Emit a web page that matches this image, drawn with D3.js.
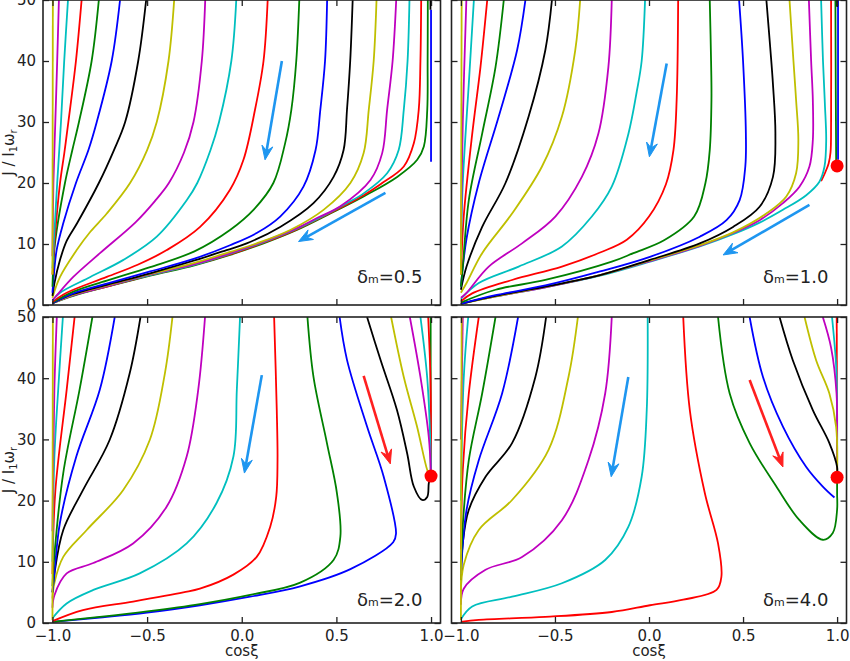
<!DOCTYPE html>
<html>
<head>
<meta charset="utf-8">
<script src="https://cdn.jsdelivr.net/npm/d3@7"></script>
<style>
  body { margin: 0; background: #fff; }
  svg { display: block; font-family: "DejaVu Sans", sans-serif; }
</style>
</head>
<body>
<div id="chart"></div>
<script>
// matplotlib "classic" colour cycle, curves are listed right -> left
var colorCycle = ["b", "g", "r", "c", "m", "y", "k"];
var xTicks = [-1, -0.5, 0, 0.5, 1];
var yTicks = [0, 10, 20, 30, 40, 50];

// delta_m = 0.5  (cos xi, J / I1 wr)
var curves05 = [
  [[1.0,48.4],[1.0,23.5]],
  [[0.983,50],[0.982,40],[0.98,32],[0.962,26],[0.927,23.8],[0.821,21.0],[0.644,17.8],[0.468,15.0],[0.291,12.3],[0.115,10.1],[-0.062,8.2],[-0.25,6.5],[-0.484,4.8],[-0.713,3.0],[-0.89,1.5],[-1.0,0.3]],
  [[0.948,50],[0.944,40],[0.935,32],[0.909,26.5],[0.856,22.7],[0.733,19.8],[0.644,18.0],[0.468,15.1],[0.291,12.4],[0.115,10.2],[-0.062,8.3],[-0.25,6.6],[-0.484,4.9],[-0.713,3.0],[-0.89,1.6],[-1.0,0.3]],
  [[0.886,50],[0.876,40],[0.856,32],[0.829,25.4],[0.768,21.6],[0.644,18.3],[0.55,16.6],[0.468,15.2],[0.291,12.5],[0.115,10.3],[-0.062,8.4],[-0.25,6.6],[-0.484,4.9],[-0.713,3.1],[-0.89,1.6],[-1.0,0.3]],
  [[0.816,50],[0.797,40],[0.768,32],[0.742,24.9],[0.68,20.5],[0.521,16.2],[0.4,14.3],[0.291,12.6],[0.115,10.4],[-0.062,8.5],[-0.25,6.7],[-0.484,5.0],[-0.713,3.1],[-0.89,1.6],[-1.0,0.3]],
  [[0.712,50],[0.697,40],[0.671,32],[0.644,24.9],[0.574,20.0],[0.432,15.6],[0.256,12.3],[0.079,10.1],[-0.062,8.7],[-0.25,6.9],[-0.484,5.1],[-0.713,3.2],[-0.89,1.7],[-1.0,0.3]],
  [[0.586,50],[0.573,40],[0.556,32],[0.538,25.4],[0.485,21.0],[0.379,16.7],[0.203,12.8],[0.026,10.1],[-0.08,9.0],[-0.25,7.3],[-0.484,5.2],[-0.713,3.3],[-0.89,1.8],[-1.0,0.3]],
  [[0.451,50],[0.44,40],[0.415,32],[0.39,25.4],[0.326,19.4],[0.203,14.5],[0.079,11.8],[-0.062,9.8],[-0.25,7.6],[-0.484,5.5],[-0.713,3.5],[-0.89,1.9],[-1.0,0.3]],
  [[0.304,50],[0.288,40],[0.262,32],[0.229,26.5],[0.167,20.0],[0.062,15.6],[-0.062,12.3],[-0.25,8.8],[-0.484,6.2],[-0.713,4.0],[-0.89,2.2],[-1.0,0.4]],
  [[0.137,50],[0.115,40],[0.07,32],[0.009,23.8],[-0.062,18.9],[-0.22,12.8],[-0.396,9.0],[-0.55,6.6],[-0.713,4.6],[-0.925,2.0],[-1.0,0.5]],
  [[-0.029,50],[-0.055,40],[-0.12,30],[-0.165,25.4],[-0.235,20],[-0.29,17.2],[-0.449,11.2],[-0.625,7.4],[-0.80,4.6],[-0.96,2.0],[-1.0,0.7]],
  [[-0.193,50],[-0.211,40],[-0.255,30],[-0.305,25],[-0.385,20],[-0.46,17],[-0.56,13.6],[-0.749,8.5],[-0.89,4.6],[-0.98,1.5],[-1.0,0.8]],
  [[-0.357,50],[-0.387,40],[-0.449,30],[-0.50,25.4],[-0.59,20],[-0.713,15],[-0.80,12],[-0.872,9],[-0.96,4.6],[-1.0,1.2]],
  [[-0.505,50],[-0.547,40],[-0.616,30],[-0.675,25.4],[-0.755,20],[-0.87,13.4],[-0.925,10.5],[-0.96,7.4],[-0.99,3.5],[-1.0,1.5]],
  [[-0.643,50],[-0.687,40],[-0.766,30],[-0.81,25.4],[-0.876,20],[-0.943,13.4],[-0.978,9],[-0.995,4],[-1.0,2]],
  [[-0.755,50],[-0.793,40],[-0.86,30],[-0.895,25.4],[-0.934,20],[-0.987,10],[-1.0,3]],
  [[-0.846,50],[-0.876,40],[-0.916,30],[-0.937,25],[-0.96,20],[-0.99,10],[-1.0,5]],
  [[-0.918,50],[-0.938,40],[-0.955,30],[-0.975,20],[-0.993,10],[-1.0,6]],
  [[-0.966,50],[-0.975,40],[-0.985,30],[-0.995,20],[-1.0,8]],
  [[-0.998,50],[-1.0,5]],
  [[0.997,50],[0.997,48.4]]
];

// delta_m = 1.0
var curves10 = [
  [[1.005,50],[1.005,23.8]],
  [[0.991,50],[0.993,35],[0.995,23.5]],
  [[0.968,50],[0.968,30],[0.965,25],[0.955,23.2],[0.935,21.6],[0.915,20.3]],
  [[0.915,50],[0.925,40],[0.935,33],[0.942,27],[0.933,22.7],[0.906,20.2],[0.836,18.0],[0.712,15.6],[0.588,13.5],[0.447,11.6],[0.27,9.6],[0.005,7.1],[-0.26,4.8],[-0.551,2.9],[-0.816,1.4],[-1.0,0.2]],
  [[0.85,50],[0.862,40],[0.871,33.6],[0.871,27],[0.853,22.7],[0.8,19.4],[0.712,16.7],[0.588,13.9],[0.447,11.8],[0.27,9.7],[0.005,7.2],[-0.26,4.9],[-0.551,2.9],[-0.816,1.4],[-1.0,0.2]],
  [[0.747,50],[0.768,40],[0.782,33.6],[0.794,27],[0.782,21.6],[0.73,17.8],[0.624,15.0],[0.447,11.9],[0.27,9.8],[0.005,7.3],[-0.26,4.9],[-0.551,3.0],[-0.816,1.4],[-1.0,0.2]],
  [[0.624,50],[0.645,42],[0.659,36.2],[0.672,28.1],[0.659,21],[0.588,16.1],[0.447,12.8],[0.27,10.1],[0.005,7.4],[-0.26,4.9],[-0.551,3.0],[-0.816,1.5],[-1.0,0.2]],
  [[0.479,50],[0.5,40],[0.515,28.1],[0.512,22.7],[0.482,17.2],[0.412,13.9],[0.27,11.2],[0.005,7.9],[-0.26,5.5],[-0.551,3.2],[-0.816,1.6],[-1.0,0.2]],
  [[0.323,50],[0.33,40],[0.332,33.6],[0.323,25.4],[0.3,20],[0.24,14.5],[0.08,10.6],[-0.083,8.5],[-0.198,7.1],[-0.551,4.1],[-0.816,2.5],[-1.0,0.4]],
  [[0.155,50],[0.147,33.6],[0.13,25.4],[0.09,19.8],[0.0,14.5],[-0.118,10.7],[-0.26,8.6],[-0.463,6.3],[-0.728,4.1],[-0.94,1.9],[-1.0,0.6]],
  [[-0.021,50],[-0.039,40],[-0.065,35],[-0.11,28],[-0.198,19.4],[-0.304,14.5],[-0.463,9.6],[-0.693,6.3],[-0.905,3.6],[-1.0,1.0]],
  [[-0.198,50],[-0.216,39],[-0.269,28.1],[-0.357,21],[-0.498,14.5],[-0.675,10.1],[-0.852,6.3],[-0.97,2],[-1.0,1.2]],
  [[-0.366,50],[-0.392,41.8],[-0.463,30.9],[-0.569,22.7],[-0.728,15],[-0.887,8.5],[-0.97,3.6],[-1.0,2]],
  [[-0.516,50],[-0.551,41.8],[-0.64,30.9],[-0.763,20],[-0.887,12.8],[-0.97,6.3],[-1.0,2.5]],
  [[-0.657,50],[-0.701,41.8],[-0.799,30.9],[-0.905,20],[-0.97,10.9],[-1.0,3]],
  [[-0.772,50],[-0.816,39],[-0.887,28.1],[-0.958,17.2],[-0.99,6.3],[-1.0,3]],
  [[-0.86,50],[-0.896,39],[-0.94,28],[-0.985,14.5],[-1.0,5]],
  [[-0.931,50],[-0.958,36.3],[-0.99,20],[-1.0,8]],
  [[-0.971,50],[-0.99,30],[-1.0,10]],
  [[-0.996,50],[-1.0,5]],
  [[1.0,50],[1.0,48.9]]
];

// delta_m = 2.0
var curves20 = [
  [[1.0,24.8],[1.0,23.6]],
  [[0.998,50],[0.998,24]],
  [[0.985,50],[0.997,40],[1.0,30],[1.0,24]],
  [[0.944,50],[0.98,40],[0.997,29],[1.0,24]],
  [[0.888,50],[0.944,40.2],[0.988,30.4],[1.0,24]],
  [[0.789,50],[0.856,40.2],[0.926,32.1],[0.98,25],[0.995,24]],
  [[0.662,50],[0.733,43],[0.82,34.8],[0.874,27.7],[0.909,22.3],[0.953,20.1],[0.98,20.6],[0.988,22.8],[0.997,24]],
  [[0.517,50],[0.556,43],[0.662,32.1],[0.75,23.9],[0.815,14.6],[0.8,13.2],[0.574,8.8],[0.309,6.0],[0.044,4.3],[-0.221,2.9],[-0.5,1.7],[-0.75,0.9],[-1.0,0.2]],
  [[0.347,50],[0.379,40.2],[0.45,29.4],[0.503,21.2],[0.521,14.1],[0.485,10.3],[0.309,6.6],[0.044,4.6],[-0.221,3.1],[-0.5,1.9],[-0.75,1.0],[-1.0,0.2]],
  [[0.171,50],[0.185,34.8],[0.189,26.6],[0.182,20.6],[0.15,15.7],[0.079,10.8],[-0.044,7.9],[-0.221,5.6],[-0.309,5.0],[-0.574,3.5],[-0.839,2.1],[-1.0,0.3]],
  [[-0.009,50],[-0.026,38.1],[-0.044,27.2],[-0.133,19.6],[-0.291,13],[-0.539,8.1],[-0.784,5.4],[-0.925,3.2],[-1.0,0.8]],
  [[-0.194,50],[-0.23,38.1],[-0.291,27.2],[-0.397,19],[-0.574,13],[-0.784,9.8],[-0.925,8.1],[-0.99,4.5],[-1.0,2.5]],
  [[-0.366,50],[-0.406,40.8],[-0.486,29.9],[-0.627,21.7],[-0.819,15.2],[-0.943,10.8],[-0.99,6.5],[-1.0,4]],
  [[-0.535,50],[-0.592,40.8],[-0.698,29.9],[-0.839,21.7],[-0.943,15.2],[-0.99,8],[-1.0,5]],
  [[-0.671,50],[-0.75,38.1],[-0.874,27.2],[-0.961,16.3],[-0.99,8],[-1.0,5]],
  [[-0.789,50],[-0.857,38.1],[-0.943,24.5],[-0.99,11],[-1.0,6]],
  [[-0.883,50],[-0.925,38.1],[-0.985,21.5],[-1.0,8]],
  [[-0.945,50],[-0.97,38],[-0.99,27],[-1.0,10]],
  [[-0.977,50],[-0.99,38],[-1.0,15]],
  [[-0.998,50],[-1.0,0.5]]
];

// delta_m = 4.0
var curves40 = [
  [[1.0,24.4],[1.0,23.4]],
  [[1.0,24.6],[1.0,23.2]],
  [[0.998,50],[1.0,24]],
  [[0.973,50],[0.995,42],[1.0,35],[1.0,24]],
  [[0.924,50],[0.968,45],[0.997,37.5],[1.0,30],[1.0,24]],
  [[0.827,50],[0.889,42.9],[0.959,37.5],[0.995,32],[1.0,24]],
  [[0.694,50],[0.765,42.9],[0.871,34.8],[0.959,29.4],[1.0,25.5],[1.0,24]],
  [[0.535,50],[0.606,40.2],[0.712,32.1],[0.836,25.5],[0.924,22.3],[0.986,20.5]],
  [[0.367,50],[0.429,37.5],[0.535,29.4],[0.677,22.3],[0.8,16.8],[0.924,13.6],[0.977,14.7],[1.0,18.5],[1.0,21.2],[1.0,24]],
  [[0.182,50],[0.217,34.8],[0.297,21.2],[0.367,13],[0.385,7.6],[0.359,5.4],[0.182,3.8],[0.005,2.9],[-0.198,1.8],[-0.551,1.0],[-0.905,0.5],[-1.0,0.2]],
  [[-0.007,50],[-0.012,34.8],[-0.039,23.9],[-0.11,15.7],[-0.233,10.3],[-0.463,6.5],[-0.728,4.3],[-0.94,2.7],[-1.0,0.6]],
  [[-0.198,50],[-0.233,37.5],[-0.322,26.6],[-0.463,16.8],[-0.675,10.8],[-0.869,8.7],[-0.985,5.6],[-1.0,3]],
  [[-0.378,50],[-0.428,40.2],[-0.534,28.3],[-0.728,20.1],[-0.905,15.2],[-0.985,9.5],[-1.0,5]],
  [[-0.547,50],[-0.604,40.2],[-0.728,29.4],[-0.869,23.9],[-0.958,18.5],[-0.99,13],[-1.0,7]],
  [[-0.696,50],[-0.781,37.5],[-0.905,26.6],[-0.97,18.5],[-1.0,8]],
  [[-0.816,50],[-0.887,37.5],[-0.958,26.6],[-0.99,16],[-1.0,9]],
  [[-0.905,50],[-0.958,37.5],[-0.99,25],[-1.0,12]],
  [[-0.961,50],[-0.985,40],[-1.0,20]],
  [[-0.99,50],[-1.0,30]],
  [[-0.996,50],[-1.0,0.5]]
];

// arrows: [from, to, kind]
var arrows05 = [[[0.212,40],[0.123,23.8],"blue"], [[0.759,18.4],[0.3,10.4],"blue"]];
var arrows10 = [[[0.094,39.6],[0.002,24.3],"blue"], [[0.853,16.4],[0.394,8.2],"blue"]];
var arrows20 = [[[0.106,40.5],[0.014,24.5],"blue"], [[0.644,40.4],[0.785,26.0],"red"]];
var arrows40 = [[[-0.11,40.2],[-0.201,23.9],"blue"], [[0.535,39.7],[0.712,25.5],"red"]];

// fixed points (red dots)
var dots05 = [];
var dots10 = [[1.0,22.8]];
var dots20 = [[1.0,24.0]];
var dots40 = [[1.0,23.8]];

var deltaLabels = ["0.5", "1.0", "2.0", "4.0"];

var colors = {b:"#0000ff", g:"#008000", r:"#ff0000", c:"#00bfbf", m:"#bf00bf", y:"#bfbf00", k:"#000000"};
var arrowColors = {blue:"#1e96f0", red:"#ff2020"};

var W = 850, H = 661;
var svg = d3.select("#chart").append("svg").attr("width", W).attr("height", H);

var panels = [
  {curves: curves05, arrows: arrows05, dots: dots05, label: deltaLabels[0], x0: 43, x1: 440.5, y0: 0, y1: 305, left: true, bottom: false},
  {curves: curves10, arrows: arrows10, dots: dots10, label: deltaLabels[1], x0: 451.5, x1: 846.5, y0: 0, y1: 305, left: false, bottom: false},
  {curves: curves20, arrows: arrows20, dots: dots20, label: deltaLabels[2], x0: 43, x1: 440.5, y0: 317, y1: 623, left: true, bottom: true},
  {curves: curves40, arrows: arrows40, dots: dots40, label: deltaLabels[3], x0: 451.5, x1: 846.5, y0: 317, y1: 623, left: false, bottom: true}
];

var fmt = function(d) { return d3.format(".1f")(d).replace("-", "\u2212"); };

panels.forEach(function(p, pi) {
  var x = d3.scaleLinear().domain([-1.05, 1.05]).range([p.x0, p.x1]);
  var y = d3.scaleLinear().domain([0, 50]).range([p.y1, p.y0]);

  var clipId = "clip" + pi;
  svg.append("clipPath").attr("id", clipId)
    .append("rect").attr("x", p.x0).attr("y", p.y0)
    .attr("width", p.x1 - p.x0).attr("height", p.y1 - p.y0);

  var g = svg.append("g").attr("clip-path", "url(#" + clipId + ")");

  var line = d3.line()
    .x(function(d) { return x(d[0]); })
    .y(function(d) { return y(d[1]); })
    .curve(d3.curveCatmullRom.alpha(0.5));

  g.selectAll("path.curve").data(p.curves).enter().append("path")
    .attr("class", "curve")
    .attr("d", line)
    .attr("fill", "none")
    .attr("stroke", function(d, i) { return colors[colorCycle[i % colorCycle.length]]; })
    .attr("stroke-width", 1.8)
    .attr("stroke-linejoin", "round");

  // arrows
  p.arrows.forEach(function(a) {
    var ax = x(a[0][0]), ay = y(a[0][1]), bx = x(a[1][0]), by = y(a[1][1]);
    var dx = bx - ax, dy = by - ay, len = Math.sqrt(dx * dx + dy * dy);
    var ux = dx / len, uy = dy / len, nx = -uy, ny = ux;
    var L = 14, Wd = 5.5, notch = 9;
    var col = arrowColors[a[2]];
    svg.append("line")
      .attr("x1", ax).attr("y1", ay)
      .attr("x2", bx - ux * notch).attr("y2", by - uy * notch)
      .attr("stroke", col).attr("stroke-width", 2.6);
    var pts = [
      [bx, by],
      [bx - ux * L + nx * Wd, by - uy * L + ny * Wd],
      [bx - ux * notch, by - uy * notch],
      [bx - ux * L - nx * Wd, by - uy * L - ny * Wd]
    ];
    svg.append("path")
      .attr("d", "M" + pts.map(function(q) { return q.join(","); }).join("L") + "Z")
      .attr("fill", col).attr("stroke", col).attr("stroke-width", 1).attr("stroke-linejoin", "round");
  });

  // red dots
  svg.selectAll(null).data(p.dots).enter().append("circle")
    .attr("cx", function(d) { return x(d[0]); })
    .attr("cy", function(d) { return y(d[1]); })
    .attr("r", 6.5)
    .attr("fill", "#ff0000");

  // axes with inward ticks
  var ink = "#222";
  var axB = svg.append("g").attr("transform", "translate(0," + p.y1 + ")")
    .call(d3.axisBottom(x).tickValues(xTicks).tickSize(-6).tickPadding(7)
      .tickFormat(p.bottom ? fmt : function() { return ""; }));
  var axT = svg.append("g").attr("transform", "translate(0," + p.y0 + ")")
    .call(d3.axisTop(x).tickValues(xTicks).tickSize(-6).tickFormat(function() { return ""; }));
  var axL = svg.append("g").attr("transform", "translate(" + p.x0 + ",0)")
    .call(d3.axisLeft(y).tickValues(yTicks).tickSize(-6).tickPadding(7)
      .tickFormat(p.left ? d3.format("d") : function() { return ""; }));
  var axR = svg.append("g").attr("transform", "translate(" + p.x1 + ",0)")
    .call(d3.axisRight(y).tickValues(yTicks).tickSize(-6).tickFormat(function() { return ""; }));

  [axB, axT, axL, axR].forEach(function(ax) {
    ax.select(".domain").remove();
    ax.selectAll(".tick line").attr("stroke", ink).attr("stroke-width", 1.3);
    ax.selectAll(".tick text").attr("fill", ink).style("font-size", "15px")
      .style("font-family", '"DejaVu Sans", sans-serif');
  });

  svg.append("rect")
    .attr("x", p.x0).attr("y", p.y0)
    .attr("width", p.x1 - p.x0).attr("height", p.y1 - p.y0)
    .attr("fill", "none").attr("stroke", ink).attr("stroke-width", 1.6);

  // delta_m annotation
  var t = svg.append("text")
    .attr("x", p.x1 - 18).attr("y", p.y1 - (p.bottom ? 17 : 22))
    .attr("text-anchor", "end").attr("fill", ink).style("font-size", "18px");
  t.append("tspan").text("\u03b4");
  t.append("tspan").style("font-size", "11px").text("m");
  t.append("tspan").text("=" + p.label);

  // axis titles
  if (p.bottom) {
    svg.append("text")
      .attr("x", x(0)).attr("y", 656)
      .attr("text-anchor", "middle").attr("fill", ink).style("font-size", "15px")
      .text("cos\u03be");
  }
  if (p.left) {
    var cy = (p.y0 + p.y1) / 2;
    var yl = svg.append("text")
      .attr("transform", "translate(14," + cy + ") rotate(-90)")
      .attr("text-anchor", "middle").attr("fill", ink).style("font-size", "15px");
    yl.append("tspan").text("J / I");
    yl.append("tspan").attr("dy", 3).style("font-size", "10px").text("1");
    yl.append("tspan").attr("dy", -3).text("\u03c9");
    yl.append("tspan").attr("dy", 3).style("font-size", "10px").text("r");
  }
});
</script>
</body>
</html>
